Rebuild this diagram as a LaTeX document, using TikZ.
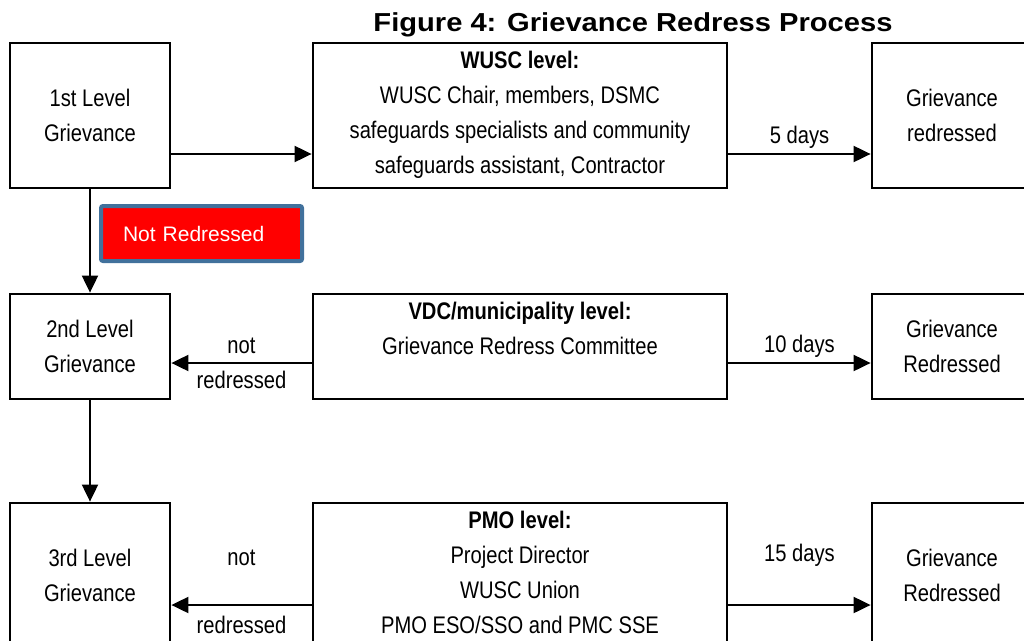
\documentclass[tikz,border=0pt]{standalone}
\usepackage{fontspec}
\setmainfont{Liberation Sans}[FakeStretch=0.84]
\newfontfamily\titlefont{Liberation Sans}[FakeStretch=1.12]
\newfontfamily\plainfont{Liberation Sans}
\usetikzlibrary{arrows.meta,positioning}
\definecolor{tagborder}{HTML}{41719C}
\begin{document}
\begin{tikzpicture}[x=1pt, y=-1pt,
    every node/.style={font=\fontsize{24}{35}\selectfont, inner sep=0pt},
    box/.style={draw, line width=2.8pt, minimum width=160pt, align=center},
    midbox/.style={draw, line width=2.8pt, minimum width=414pt},
    midtext/.style={align=center},
    arr/.style={line width=2pt, -{Triangle[length=17pt,width=16pt]}},
    tag/.style={draw=tagborder, fill=red, line width=4pt, rounded corners=2pt,
      text=white, font=\plainfont\fontsize{21}{25}\selectfont,
      minimum width=201pt, minimum height=55pt, text width=157pt,
      inner xsep=22pt, align=left}]
  \useasboundingbox (0,0) rectangle (1024,640);
  \clip (0,0) rectangle (1024,640);

  \node[font=\titlefont\bfseries\fontsize{26}{30}\selectfont] (title) at (633,24.5)
    {Figure 4: Grievance Redress Process};

  % first level
  \node[box, minimum height=145pt] (lvl1) at (90,115.5) {1st Level\\Grievance};
  \node[midbox, minimum height=145pt] (wusc) at (520,115.5) {};
  \node[midtext, below=9pt of wusc.north] (wusctext)
    {\textbf{WUSC level:}\\WUSC Chair, members, DSMC\\safeguards specialists and community\\safeguards assistant, Contractor};
  \node[box, minimum height=145pt] (done1) at (952,115.5) {Grievance\\redressed};

  % second level
  \node[box, minimum height=105pt] (lvl2) at (90,346.5) {2nd Level\\Grievance};
  \node[midbox, minimum height=105pt] (vdc) at (520,346.5) {};
  \node[midtext, below=9pt of vdc.north] (vdctext)
    {\textbf{VDC/municipality level:}\\Grievance Redress Committee};
  \node[box, minimum height=105pt] (done2) at (952,346.5) {Grievance\\Redressed};

  % third level
  \node[box, minimum height=145pt] (lvl3) at (90,575.5) {3rd Level\\Grievance};
  \node[midbox, minimum height=145pt] (pmo) at (520,575.5) {};
  \node[midtext, below=9pt of pmo.north] (pmotext)
    {\textbf{PMO level:}\\Project Director\\WUSC Union\\PMO ESO/SSO and PMC SSE};
  \node[box, minimum height=145pt] (done3) at (952,575.5) {Grievance\\Redressed};

  \node[tag] (notredressed) at (201.5,233.5) {Not Redressed};

  \draw[arr] ([yshift=-38.5pt]lvl1.east) -- ([yshift=-38.5pt]wusc.west);
  \draw[arr] ([yshift=-38.5pt]wusc.east) -- node[above=5pt] (days5) {5 days}
    ([yshift=-38.5pt]done1.west);
  \draw[arr] (lvl1) -- (lvl2);

  \draw[arr] ([yshift=-16.5pt]vdc.west) -- node[align=center] (back2) {not\\redressed}
    ([yshift=-16.5pt]lvl2.east);
  \draw[arr] ([yshift=-16.5pt]vdc.east) -- node[above=5pt] (days10) {10 days}
    ([yshift=-16.5pt]done2.west);
  \draw[arr] (lvl2) -- (lvl3);

  \draw[arr] ([yshift=-29.5pt]pmo.west) -- node[above=38pt] (back3a) {not}
    node[below=10pt] (back3b) {redressed} ([yshift=-29.5pt]lvl3.east);
  \draw[arr] ([yshift=-29.5pt]pmo.east) -- node[above=38pt] (days15) {15 days}
    ([yshift=-29.5pt]done3.west);
\end{tikzpicture}
\end{document}
